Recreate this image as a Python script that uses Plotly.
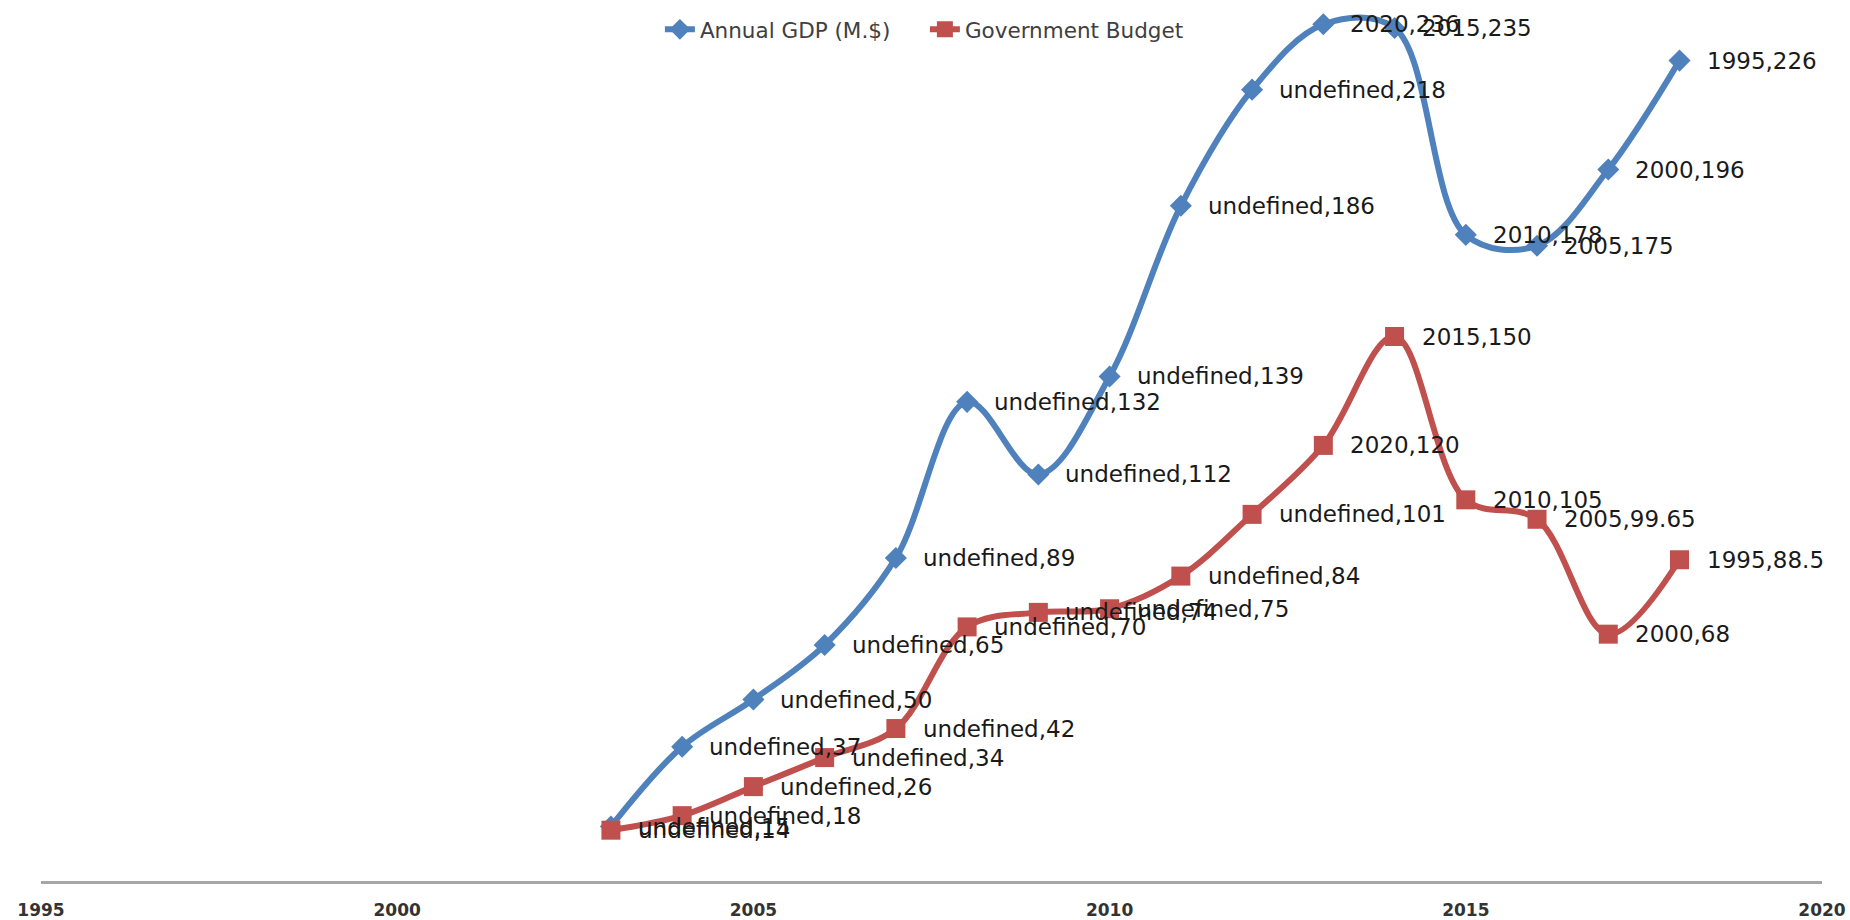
import plotly.graph_objects as go

years = list(range(2003, 2019))
gdp = [15, 37, 50, 65, 89, 132, 112, 139, 186, 218, 236, 235, 178, 175, 196, 226]
budget = [14, 18, 26, 34, 42, 70, 74, 75, 84, 101, 120, 150, 105, 99.65, 68, 88.5]
label_prefix = ["undefined"] * 10 + ["2020", "2015", "2010", "2005", "2000", "1995"]
tick_years = [1995, 2000, 2005, 2010, 2015, 2020]

BLUE = "#4F81BD"
RED = "#C0504D"

fig = go.Figure()
fig.add_trace(go.Scatter(
    x=years, y=gdp, mode="lines+markers", name="Annual GDP (M.$)",
    line=dict(color=BLUE, width=6, shape="spline", smoothing=1),
    marker=dict(symbol="diamond", size=17, color=BLUE),
))
fig.add_trace(go.Scatter(
    x=years, y=budget, mode="lines+markers", name="Government Budget",
    line=dict(color=RED, width=6, shape="spline", smoothing=1),
    marker=dict(symbol="square", size=19, color=RED),
))

def fmt(v):
    return str(int(v)) if float(v).is_integer() else str(v)

annotations = []
for series in (gdp, budget):
    for x, v, p in zip(years, series, label_prefix):
        annotations.append(dict(
            x=x, y=v, xref="x", yref="y", text=f"{p},{fmt(v)}",
            showarrow=False, xanchor="left", yanchor="middle", xshift=25,
            font=dict(family="DejaVu Sans", size=23, color="#1a1a1a"),
        ))

fig.update_layout(
    width=1850, height=920,
    margin=dict(l=41, r=28, t=0, b=35),
    plot_bgcolor="white", paper_bgcolor="white",
    annotations=annotations,
    showlegend=True,
    legend=dict(
        orientation="h", x=0.3475, y=0.99, xanchor="left", yanchor="top",
        font=dict(family="DejaVu Sans", size=21.5, color="#404040"),
        bgcolor="rgba(0,0,0,0)", itemwidth=30,
        entrywidth=220, entrywidthmode="pixels",
    ),
    xaxis=dict(
        range=[1995, 2020], tickvals=tick_years, ticktext=[str(t) for t in tick_years],
        showgrid=False, zeroline=False, showline=True, linecolor="#A6A6A6", linewidth=3,
        ticks="", ticklabelstandoff=12,
        tickfont=dict(family="DejaVu Sans", size=17, color="#333333", weight="bold"),
    ),
    yaxis=dict(range=[0, 242.7], visible=False, showgrid=False, zeroline=False),
)

fig.write_html("out.html")
